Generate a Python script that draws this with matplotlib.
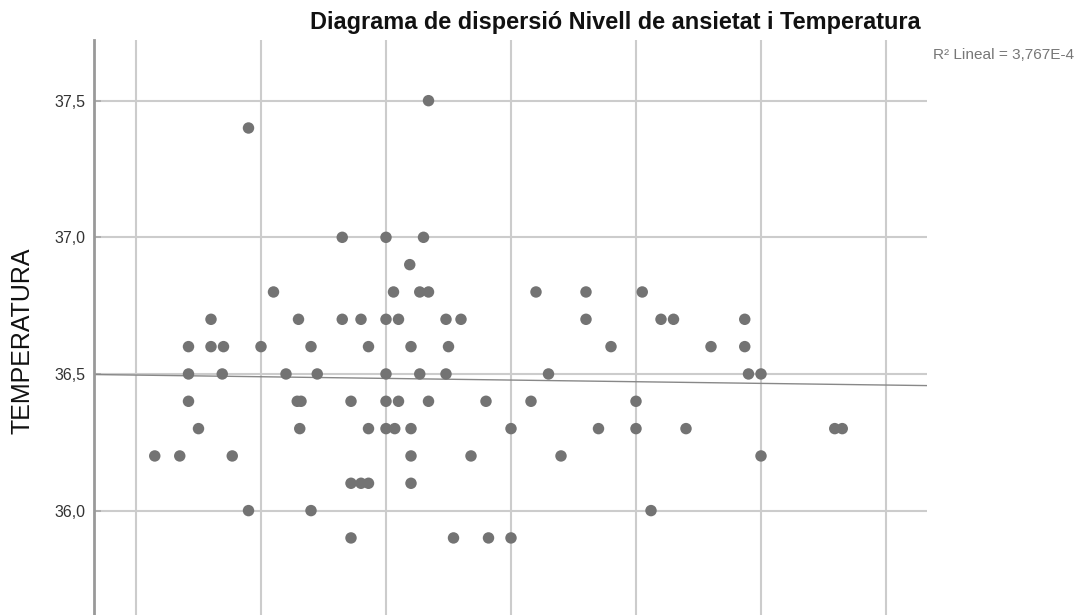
import numpy as np
import matplotlib
matplotlib.use("Agg")
import matplotlib.pyplot as plt

plt.rcParams['font.family'] = ['Liberation Sans', 'DejaVu Sans']

# Anxiety level (x) and body temperature (y) for each participant, grouped by temperature
temp_levels = [37.5, 37.4, 37.0, 36.9, 36.8, 36.7, 36.6, 36.5, 36.4, 36.3, 36.2, 36.1, 36.0, 35.9]
anxiety_by_temp = [
    [33.4],
    [19.0],
    [26.5, 30.0, 33.0],
    [31.9],
    [21.0, 30.6, 32.7, 33.4, 42.0, 46.0, 50.5],
    [16.0, 23.0, 26.5, 28.0, 30.0, 31.0, 34.8, 36.0, 46.0, 52.0, 53.0, 58.7],
    [14.2, 16.0, 17.0, 20.0, 24.0, 28.6, 32.0, 35.0, 48.0, 56.0, 58.7],
    [14.2, 16.9, 22.0, 24.5, 30.0, 32.7, 34.8, 43.0, 59.0, 60.0],
    [14.2, 22.9, 23.2, 27.2, 30.0, 31.0, 33.4, 38.0, 41.6, 50.0],
    [15.0, 23.1, 28.6, 30.0, 30.7, 32.0, 40.0, 47.0, 50.0, 54.0, 65.9, 66.5],
    [11.5, 13.5, 17.7, 32.0, 36.8, 44.0, 60.0],
    [27.2, 28.0, 28.6, 32.0],
    [19.0, 24.0, 51.2],
    [27.2, 35.4, 38.2, 40.0],
]

y_ticks = [36.0, 36.5, 37.0, 37.5]
y_tick_labels = ["36,0", "36,5", "37,0", "37,5"]
x_grid = [10, 20, 30, 40, 50, 60, 70]

title = "Diagrama de dispersió Nivell de ansietat i Temperatura"
y_label = "TEMPERATURA"
fit_label = "R² Lineal = 3,767E-4"

x = np.concatenate([np.array(v, dtype=float) for v in anxiety_by_temp])
y = np.concatenate([np.full(len(v), t) for v, t in zip(anxiety_by_temp, temp_levels)])

fig = plt.figure(figsize=(10.81, 6.15), dpi=100)
ax = fig.add_axes([94 / 1081, 0.0, (927 - 94) / 1081, 1 - 40 / 615])

xlim = (6.64, 73.28)
ax.set_xlim(*xlim)
ax.set_ylim(35.618, 37.722)

grid_color = "#cccccc"
ax.set_yticks(y_ticks)
ax.set_yticklabels(y_tick_labels)
ax.set_xticks(x_grid)
ax.tick_params(axis='x', length=0, labelbottom=False)
ax.tick_params(axis='y', direction='in', length=5, width=1.2, color="#aaaaaa",
               labelsize=11.5, labelcolor="#333333", pad=6)
ax.grid(True, color=grid_color, linewidth=1.5)
ax.set_axisbelow(True)

for side in ("top", "right", "bottom"):
    ax.spines[side].set_visible(False)
ax.spines["left"].set_color("#999999")
ax.spines["left"].set_linewidth(2)

# Least-squares fit line across the full x range
slope, intercept = np.polyfit(x, y, 1)
xs = np.array(xlim)
ax.plot(xs, intercept + slope * xs, color="#888888", linewidth=1.0, zorder=2)

ax.scatter(x, y, s=68, color="#737373", edgecolors="none", zorder=3)

fig.text(23 / 1081, 1 - 341 / 615, y_label, rotation=90, ha="center", va="center",
         fontsize=18, color="#111111")

fig.text(615 / 1081, 1 - 22 / 615, title, ha="center", va="center",
         fontsize=16.9, fontweight="bold", color="#111111")
fig.text(933 / 1081, 1 - 55 / 615, fit_label, ha="left", va="center",
         fontsize=11.1, color="#777777")

fig.savefig("out.png", dpi=100)
